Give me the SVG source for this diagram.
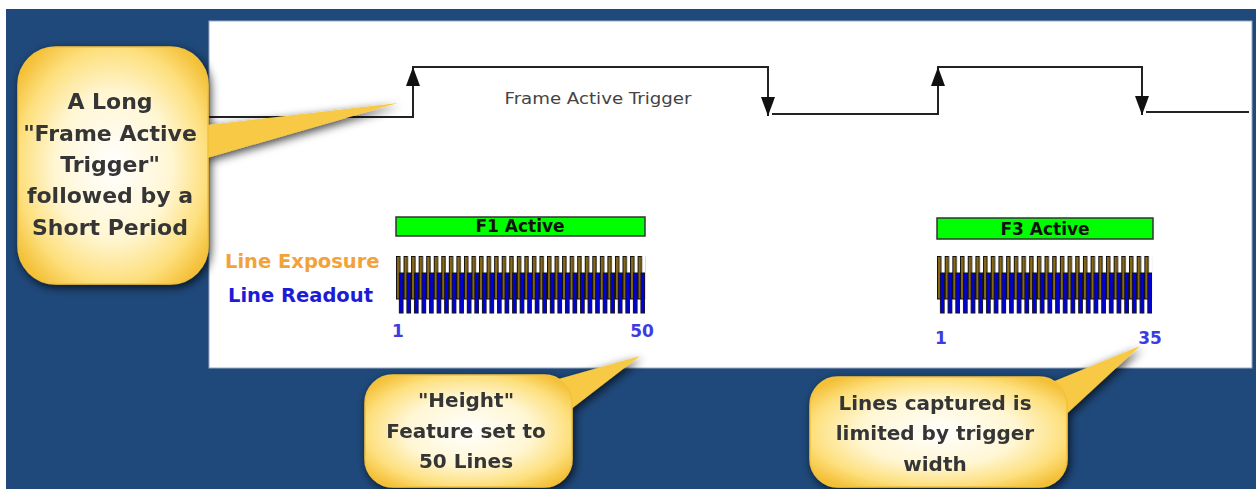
<svg xmlns="http://www.w3.org/2000/svg" width="1256" height="489" viewBox="0 0 1256 489">
<style>
.lbl{font-family:"DejaVu Sans","Liberation Sans",sans-serif;font-weight:bold}
.call{font-family:"DejaVu Sans","Liberation Sans",sans-serif;font-weight:bold;fill:#363636;text-anchor:middle}
.num{font-family:"DejaVu Sans","Liberation Sans",sans-serif;font-weight:bold;fill:#3c3ce0;font-size:17px;text-anchor:middle}
.act{fill:#00ff00;stroke:#333;stroke-width:1.5}
.acttxt{font-family:"DejaVu Sans","Liberation Sans",sans-serif;font-weight:bold;font-size:17px;fill:#111;text-anchor:middle}
.wave{fill:none;stroke:#222;stroke-width:2}
.tail{fill:#f7c944}
.bubble{fill:url(#cg);stroke:#f2c23e;stroke-width:1.5}
</style>
<defs>
<radialGradient id="cg" cx="50%" cy="50%" r="62%">
<stop offset="0" stop-color="#ffffff"/>
<stop offset="0.5" stop-color="#fff6d2"/>
<stop offset="0.8" stop-color="#fddf7c"/>
<stop offset="1" stop-color="#f4c038"/>
</radialGradient>
<filter id="sh" x="-20%" y="-20%" width="140%" height="140%">
<feDropShadow dx="2" dy="3" stdDeviation="5" flood-color="#000" flood-opacity="0.75"/>
</filter>
<marker id="ah" markerUnits="userSpaceOnUse" markerWidth="19" markerHeight="14" viewBox="0 0 19 14" refX="19" refY="7" orient="auto">
<path d="M0,0 L19,7 L0,14 Z" fill="#111"/>
</marker>
<pattern id="p1" patternUnits="userSpaceOnUse" x="396" y="256" width="7.55" height="58">
<rect x="0.5" y="0.5" width="3.4" height="42.5" fill="#8a6a12" stroke="#111" stroke-width="1"/>
<rect x="3.4" y="17" width="3.8" height="40" fill="#0000dc" stroke="#111" stroke-width="1"/>
</pattern>
<pattern id="p3" patternUnits="userSpaceOnUse" x="937" y="256" width="7.68" height="58">
<rect x="0.5" y="0.5" width="3.4" height="42.5" fill="#8a6a12" stroke="#111" stroke-width="1"/>
<rect x="3.5" y="17" width="3.8" height="40" fill="#0000dc" stroke="#111" stroke-width="1"/>
</pattern>
</defs>

<rect x="0" y="0" width="1256" height="489" fill="#ffffff"/>
<rect id="background" x="6" y="9" width="1250" height="480" fill="#1f497b"/>
<rect id="panel" x="209" y="21" width="1043" height="347" fill="#ffffff" stroke="#9aaac0" stroke-width="1"/>

<g id="trigger-waveform">
<path class="wave" d="M209,117 H413 V67 H768 V100"/>
<line class="wave" x1="413" y1="100" x2="413" y2="67" marker-end="url(#ah)"/>
<line class="wave" x1="768" y1="90" x2="768" y2="116" marker-end="url(#ah)"/>
<path class="wave" d="M772,114 H938 V67 H1142 V100"/>
<line class="wave" x1="938" y1="100" x2="938" y2="67" marker-end="url(#ah)"/>
<line class="wave" x1="1142" y1="90" x2="1142" y2="115" marker-end="url(#ah)"/>
<path class="wave" d="M1146,112 H1249"/>
<text x="598" y="104" font-family="DejaVu Sans, Liberation Sans, sans-serif" font-size="16" fill="#444" text-anchor="middle" textLength="187" lengthAdjust="spacingAndGlyphs">Frame Active Trigger</text>
</g>

<g id="legend">
<text class="lbl" x="225" y="268" font-size="19.5" fill="#f3a23a">Line Exposure</text>
<text class="lbl" x="228" y="302" font-size="19.5" fill="#1c1cd8">Line Readout</text>
</g>

<g id="frame-f1">
<rect class="act" x="396" y="217" width="249" height="19"/>
<text class="acttxt" x="520" y="232">F1 Active</text>
<rect x="396" y="273" width="249" height="26" fill="#1a1a1a"/>
<rect x="396" y="256" width="249.15" height="58" fill="url(#p1)"/>
<text class="num" x="398" y="337">1</text>
<text class="num" x="642" y="337">50</text>
</g>

<g id="frame-f3">
<rect class="act" x="937" y="218" width="216" height="21"/>
<text class="acttxt" x="1045" y="235">F3 Active</text>
<rect x="937" y="273" width="215" height="26" fill="#1a1a1a"/>
<rect x="937" y="256" width="215.04" height="58" fill="url(#p3)"/>
<text class="num" x="941" y="344">1</text>
<text class="num" x="1150" y="344">35</text>
</g>

<g id="callout-trigger" filter="url(#sh)">
<polygon class="tail" points="200,126 398,103 200,160"/>
<rect class="bubble" x="18" y="47" width="190" height="237" rx="38" ry="38"/>
<text class="call" font-size="22" x="110" y="109">A Long</text>
<text class="call" font-size="22" x="110" y="141">"Frame Active</text>
<text class="call" font-size="22" x="110" y="172">Trigger"</text>
<text class="call" font-size="22" x="110" y="203">followed by a</text>
<text class="call" font-size="22" x="110" y="235">Short Period</text>
</g>

<g id="callout-height" filter="url(#sh)">
<polygon class="tail" points="548,382 640,356 566,413"/>
<rect class="bubble" x="365" y="375" width="207" height="112" rx="28" ry="28"/>
<text class="call" font-size="20" x="466" y="407">"Height"</text>
<text class="call" font-size="20" x="466" y="438">Feature set to</text>
<text class="call" font-size="20" x="466" y="468">50 Lines</text>
</g>

<g id="callout-width" filter="url(#sh)">
<polygon class="tail" points="1045,385 1140,346 1060,420"/>
<rect class="bubble" x="810" y="377" width="257" height="110" rx="28" ry="28"/>
<text class="call" font-size="20" x="935" y="410">Lines captured is</text>
<text class="call" font-size="20" x="935" y="440">limited by trigger</text>
<text class="call" font-size="20" x="935" y="471">width</text>
</g>
</svg>
